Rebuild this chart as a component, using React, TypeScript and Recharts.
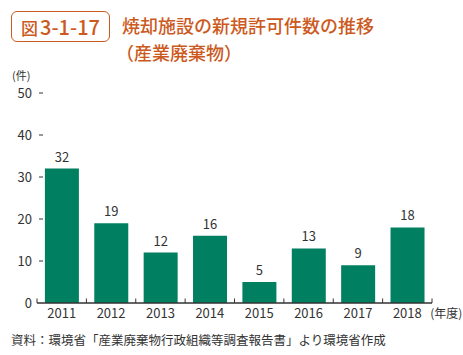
import { BarChart, Bar, XAxis, YAxis, LabelList } from "recharts";

const years = ["2011", "2012", "2013", "2014", "2015", "2016", "2017", "2018"];
const permits = [32, 19, 12, 16, 5, 13, 9, 18];
const yTicks = [0, 10, 20, 30, 40, 50];

const W = 463;
const H = 355;
const X_AXIS_H = 30;
const Y_AXIS_W = 30;
const M = { top: 93, right: 31, left: 37 - Y_AXIS_W, bottom: 52 - X_AXIS_H };
const STEP = (W - 37 - M.right) / years.length;

const BAR = "#007f61";
const ORANGE = "#cc5a1e";
const TEXT = "#333";
const FONT = "'Noto Sans CJK JP', 'Noto Sans', sans-serif";

const data = years.map((year, i) => ({ year, count: permits[i] }));

function YTick(props: any) {
    const { y, payload } = props;
    return (
        <g>
            <text x={32} y={y} dy={4.5} textAnchor="end" fontSize={13} fill={TEXT} fontFamily={FONT}>
                {payload.value}
            </text>
            {payload.value !== 0 && <line x1={39} x2={43} y1={y} y2={y} stroke={TEXT} strokeWidth={1} />}
        </g>
    );
}

function XTick(props: any) {
    const { x, y, payload, index } = props;
    const base = y - 8;
    const last = index === years.length - 1;
    return (
        <g>
            <line x1={x - STEP / 2} x2={x - STEP / 2} y1={base} y2={base - 4.5} stroke={TEXT} />
            {last && <line x1={x + STEP / 2} x2={x + STEP / 2} y1={base} y2={base - 4.5} stroke={TEXT} />}
            <text x={x} y={y + 7} textAnchor="middle" fontSize={13} fill={TEXT} fontFamily={FONT}>
                {payload.value}
            </text>
            {last && (
                <text x={x + 23} y={y + 7} textAnchor="start" fontSize={12} fill={TEXT} fontFamily={FONT}>
                    (年度)
                </text>
            )}
        </g>
    );
}

export default function App() {
    return (
        <div style={{ position: "absolute", left: 0, top: 0, width: W, height: H, background: "#fff", fontFamily: FONT }}>
            <div
                style={{
                    position: "absolute", left: 11, top: 11, width: 97, height: 29,
                    border: `1.5px solid ${ORANGE}`, borderRadius: 6, color: ORANGE,
                    fontSize: 20, lineHeight: "29px", textAlign: "center", fontWeight: 500,
                }}
            >
                <span style={{ fontSize: 17, marginRight: 2 }}>図</span>3-1-17
            </div>
            <div style={{ position: "absolute", left: 122, top: 12, color: ORANGE, fontSize: 18, lineHeight: "27px", whiteSpace: "nowrap", fontWeight: 500 }}>
                焼却施設の新規許可件数の推移
                <br />
                <span style={{ marginLeft: -6 }}>（産業廃棄物）</span>
            </div>
            <div style={{ position: "absolute", left: 12, top: 70, color: TEXT, fontSize: 11, lineHeight: "11px" }}>(件)</div>

            <BarChart width={W} height={H} data={data} margin={M} barCategoryGap="16%">
                <YAxis
                    domain={[0, 50]}
                    ticks={yTicks}
                    width={Y_AXIS_W}
                    axisLine={false}
                    tickLine={false}
                    tick={<YTick />}
                    interval={0}
                />
                <XAxis
                    dataKey="year"
                    height={X_AXIS_H}
                    axisLine={{ stroke: TEXT, strokeWidth: 1.5 }}
                    tickLine={false}
                    tick={<XTick />}
                    interval={0}
                />
                <Bar dataKey="count" fill={BAR} isAnimationActive={false}>
                    <LabelList dataKey="count" position="top" offset={7} fontSize={13} fill={TEXT} fontFamily={FONT} />
                </Bar>
            </BarChart>

            <div style={{ position: "absolute", left: 11, top: 330, color: TEXT, fontSize: 12.5, whiteSpace: "nowrap" }}>
                資料：環境省「産業廃棄物行政組織等調査報告書」より環境省作成
            </div>
        </div>
    );
}
